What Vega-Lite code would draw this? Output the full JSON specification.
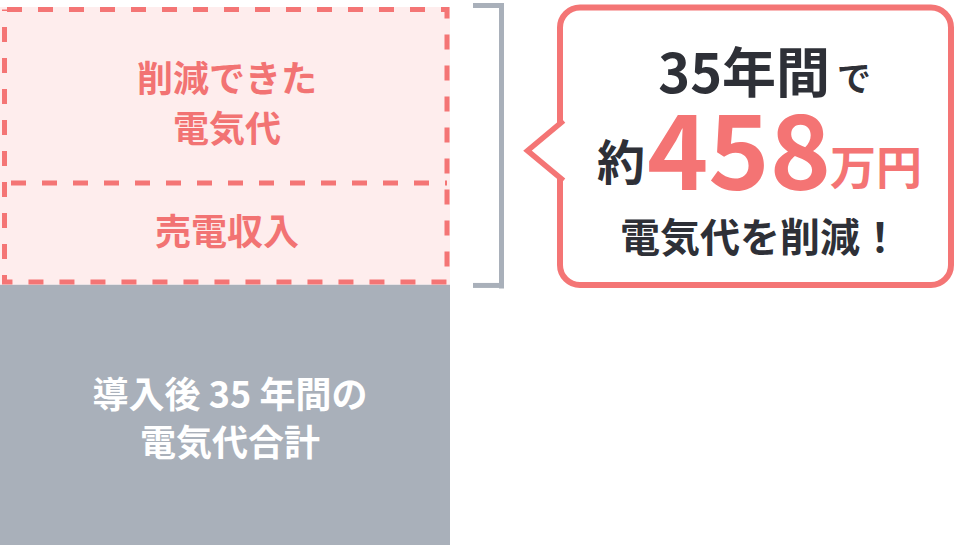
{
  "$schema": "https://vega.github.io/schema/vega-lite/v6.json",
  "description": "35年間の電気代の内訳と削減額（約458万円）",
  "width": 961,
  "height": 545,
  "autosize": {"type": "fit", "contains": "padding"},
  "padding": 0,
  "background": "#FFFFFF",
  "config": {
    "view": {"stroke": null},
    "font": "Noto Sans CJK JP",
    "text": {"font": "Noto Sans CJK JP", "fontWeight": "bold"}
  },
  "datasets": {
    "segments": [
      {"item": "導入後35年間の電気代合計", "label": "導入後 35 年間の\n電気代合計", "amount": 262, "order": 1, "kind": "total"},
      {"item": "売電収入", "label": "売電収入", "amount": 102, "order": 2, "kind": "saving"},
      {"item": "削減できた電気代", "label": "削減できた\n電気代", "amount": 177, "order": 3, "kind": "saving"}
    ]
  },
  "layer": [
    {
      "data": {"name": "segments"},
      "transform": [
        {"stack": "amount", "groupby": [], "sort": [{"field": "order", "order": "ascending"}], "as": ["y0", "y1"]}
      ],
      "layer": [
        {
          "mark": {"type": "rect"},
          "encoding": {
            "x": {"datum": 0, "type": "quantitative", "scale": {"domain": [0, 961], "nice": false, "zero": false}, "axis": null},
            "x2": {"datum": 450},
            "y": {"field": "y0", "type": "quantitative", "scale": {"domain": [0, 545], "nice": false, "zero": false}, "axis": null},
            "y2": {"field": "y1"},
            "color": {
              "field": "item",
              "type": "nominal",
              "scale": {
                "domain": ["導入後35年間の電気代合計", "売電収入", "削減できた電気代"],
                "range": ["#A9B0BA", "#FEEDED", "#FEEDED"]
              },
              "legend": null
            }
          }
        },
        {
          "transform": [
            {"filter": "datum.kind === 'saving'"},
            {"aggregate": [{"op": "min", "field": "y0", "as": "lo"}, {"op": "max", "field": "y1", "as": "hi"}]}
          ],
          "mark": {
            "type": "rect",
            "fill": "transparent",
            "stroke": "#F47575",
            "strokeWidth": 5,
            "strokeDash": [15, 16],
            "strokeDashOffset": 28.5,
            "yOffset": -2.5,
            "y2Offset": 2.5
          },
          "encoding": {
            "x": {"datum": 4.5, "type": "quantitative", "axis": null},
            "x2": {"datum": 447},
            "y": {"field": "lo", "type": "quantitative", "axis": null},
            "y2": {"field": "hi"}
          }
        },
        {
          "transform": [{"filter": "datum.item === '売電収入'"}],
          "mark": {"type": "rule", "stroke": "#F47575", "strokeWidth": 5, "strokeDash": [15, 16], "strokeDashOffset": 24.5},
          "encoding": {
            "x": {"datum": 4.5, "type": "quantitative", "axis": null},
            "x2": {"datum": 447},
            "y": {"field": "y1", "type": "quantitative", "axis": null}
          }
        },
        {
          "transform": [{"filter": "datum.item === '削減できた電気代'"}],
          "mark": {"type": "text", "align": "center", "baseline": "middle", "fontSize": 36, "lineHeight": 50, "lineBreak": "\n", "color": "#F27373", "dy": 74},
          "encoding": {
            "x": {"datum": 227, "type": "quantitative", "axis": null},
            "y": {"field": "y1", "type": "quantitative", "axis": null},
            "text": {"field": "label"}
          }
        },
        {
          "transform": [{"filter": "datum.item === '売電収入'"}],
          "mark": {"type": "text", "align": "center", "baseline": "middle", "fontSize": 36, "color": "#F27373", "dy": 51},
          "encoding": {
            "x": {"datum": 227, "type": "quantitative", "axis": null},
            "y": {"field": "y1", "type": "quantitative", "axis": null},
            "text": {"field": "label"}
          }
        },
        {
          "transform": [{"filter": "datum.kind === 'total'"}],
          "mark": {"type": "text", "align": "center", "baseline": "middle", "fontSize": 36, "lineHeight": 48, "lineBreak": "\n", "color": "#FFFFFF", "dy": 113},
          "encoding": {
            "x": {"datum": 230, "type": "quantitative", "axis": null},
            "y": {"field": "y1", "type": "quantitative", "axis": null},
            "text": {"field": "label"}
          }
        }
      ]
    },
    {
      "data": {"values": [{}]},
      "layer": [
        {
          "mark": {"type": "rule", "stroke": "#A9B0BA", "strokeWidth": 5},
          "encoding": {
            "x": {"datum": 501.5, "type": "quantitative", "axis": null},
            "y": {"datum": 545, "type": "quantitative", "axis": null},
            "y2": {"datum": 258}
          }
        },
        {
          "mark": {"type": "rule", "stroke": "#A9B0BA", "strokeWidth": 5},
          "encoding": {
            "x": {"datum": 473, "type": "quantitative", "axis": null},
            "x2": {"datum": 504},
            "y": {"datum": 542.5, "type": "quantitative", "axis": null}
          }
        },
        {
          "mark": {"type": "rule", "stroke": "#A9B0BA", "strokeWidth": 5},
          "encoding": {
            "x": {"datum": 473, "type": "quantitative", "axis": null},
            "x2": {"datum": 504},
            "y": {"datum": 261, "type": "quantitative", "axis": null}
          }
        },
        {
          "mark": {"type": "rect", "fill": "#FFFFFF", "stroke": "#F47575", "strokeWidth": 6, "cornerRadius": 20},
          "encoding": {
            "x": {"datum": 560, "type": "quantitative", "axis": null},
            "x2": {"datum": 951},
            "y": {"datum": 261.5, "type": "quantitative", "axis": null},
            "y2": {"datum": 540.5}
          }
        },
        {
          "mark": {
            "type": "point",
            "shape": "M 1.2 -1 L 0 0 L 1.2 1",
            "size": 3600,
            "filled": true,
            "fill": "#FFFFFF",
            "stroke": "#F47575",
            "strokeWidth": 5.5,
            "strokeJoin": "miter",
            "opacity": 1,
            "fillOpacity": 1,
            "strokeOpacity": 1
          },
          "encoding": {
            "x": {"datum": 527.5, "type": "quantitative", "axis": null},
            "y": {"datum": 396.5, "type": "quantitative", "axis": null}
          }
        },
        {
          "mark": {"type": "text", "text": "35年間", "align": "right", "baseline": "alphabetic", "fontSize": 54, "color": "#2E3037"},
          "encoding": {
            "x": {"datum": 830, "type": "quantitative", "axis": null},
            "y": {"datum": 455, "type": "quantitative", "axis": null}
          }
        },
        {
          "mark": {"type": "text", "text": "で", "align": "left", "baseline": "alphabetic", "fontSize": 34, "color": "#2E3037"},
          "encoding": {
            "x": {"datum": 837, "type": "quantitative", "axis": null},
            "y": {"datum": 456.5, "type": "quantitative", "axis": null}
          }
        },
        {
          "mark": {"type": "text", "text": "約", "align": "right", "baseline": "alphabetic", "fontSize": 48, "color": "#2E3037"},
          "encoding": {
            "x": {"datum": 645, "type": "quantitative", "axis": null},
            "y": {"datum": 367, "type": "quantitative", "axis": null}
          }
        },
        {
          "mark": {"type": "text", "text": "458", "align": "left", "baseline": "alphabetic", "fontSize": 104, "color": "#F47474"},
          "encoding": {
            "x": {"datum": 647, "type": "quantitative", "axis": null},
            "y": {"datum": 357, "type": "quantitative", "axis": null}
          }
        },
        {
          "mark": {"type": "text", "text": "万円", "align": "left", "baseline": "alphabetic", "fontSize": 46, "color": "#F47474"},
          "encoding": {
            "x": {"datum": 830, "type": "quantitative", "axis": null},
            "y": {"datum": 363.5, "type": "quantitative", "axis": null}
          }
        },
        {
          "mark": {"type": "text", "text": "電気代を削減！", "align": "center", "baseline": "alphabetic", "fontSize": 40, "color": "#2E3037"},
          "encoding": {
            "x": {"datum": 760, "type": "quantitative", "axis": null},
            "y": {"datum": 294.3, "type": "quantitative", "axis": null}
          }
        }
      ]
    }
  ]
}
